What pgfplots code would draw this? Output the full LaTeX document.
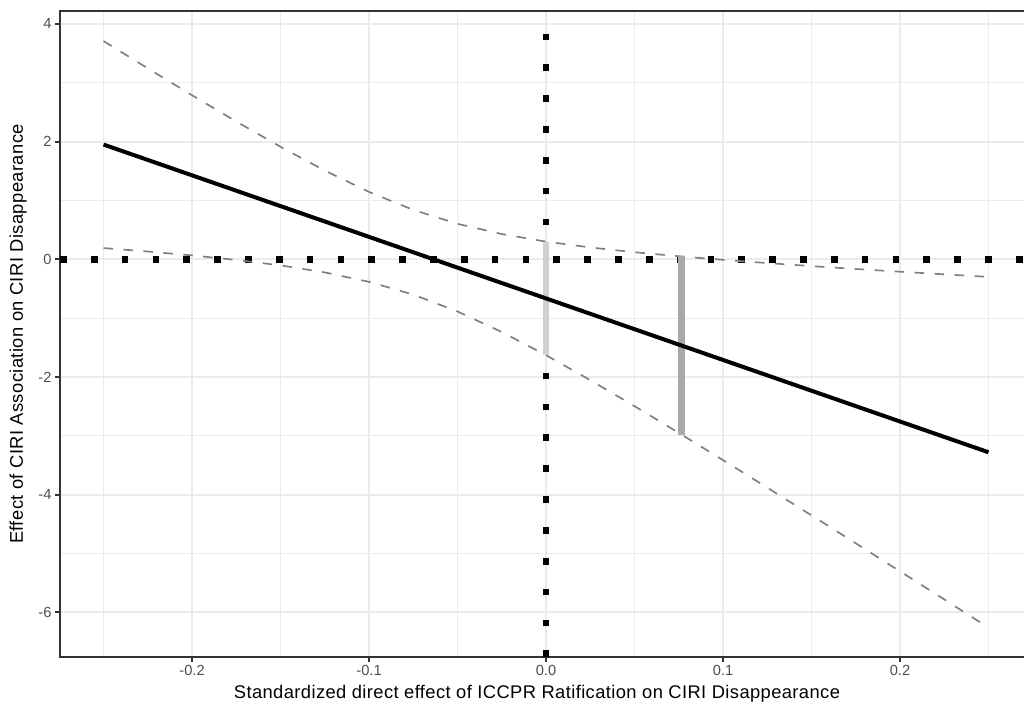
\documentclass[border=0pt]{standalone}
\usepackage{pgfplots}
\pgfplotsset{compat=1.18}
\usepackage{fontspec}
\setmainfont{Liberation Sans}
\newfontfamily\labelfont[LetterSpace=2.2]{Liberation Sans}
\definecolor{gridc}{HTML}{EBEBEB}
\definecolor{framec}{HTML}{333333}
\definecolor{ticklab}{HTML}{4D4D4D}
\definecolor{cic}{HTML}{7F7F7F}
\definecolor{barlight}{HTML}{D0D0D0}
\definecolor{bardark}{HTML}{A8A8A8}
\begin{document}
\begin{tikzpicture}
\path[use as bounding box, clip] (0,0) rectangle (614.4pt,422.4pt);
\begin{axis}[
 at={(36pt,28.2pt)}, anchor=south west, scale only axis,
 width=583.2pt, height=387.6pt,
 xmin=-0.2746, xmax=0.2746, ymin=-6.76, ymax=4.22,
 xtick={-0.2,-0.1,0,0.1,0.2}, xticklabels={-0.2,-0.1,0.0,0.1,0.2},
 ytick={-6,-4,-2,0,2,4}, yticklabels={-6,-4,-2,0,2,4},
 minor xtick={-0.25,-0.15,-0.05,0.05,0.15,0.25},
 minor ytick={-5,-3,-1,1,3},
 grid=both,
 major grid style={gridc, line width=1.07pt},
 minor grid style={gridc, line width=0.53pt},
 tick align=outside, major tick length=2.75pt, minor tick length=0pt,
 tick style={framec, line width=1.07pt},
 xtick pos=bottom, ytick pos=left,
 axis line style={framec, line width=1.07pt},
 ticklabel style={font=\fontsize{8.8}{10}\selectfont, text=ticklab, inner sep=0pt},
 xticklabel style={anchor=north},
 yticklabel style={anchor=east},
 xticklabel shift=2.2pt, yticklabel shift=2.2pt,
 xlabel={Standardized direct effect of ICCPR Ratification on CIRI Disappearance},
 ylabel={Effect of CIRI Association on CIRI Disappearance},
 label style={font=\labelfont\fontsize{11}{13}\selectfont, text=black, inner sep=0pt},
 xlabel style={at={(axis description cs:0.4907,-0.0650)}, anchor=base},
 ylabel style={at={(axis description cs:-0.0381,0.5)}, anchor=base},
]
% reference lines
\addplot[black, line width=4pt, dash pattern=on 4pt off 14.5pt] coordinates {(-0.2746,0) (0.2746,0)};
\addplot[black, line width=4pt, dash pattern=on 4pt off 14.5pt] coordinates {(0,-6.76) (0,4.22)};
% upper CI
\addplot[cic, line width=1pt, dash pattern=on 5.7pt off 6.3pt] coordinates {
(-0.25,3.709) (-0.225,3.245) (-0.2,2.788) (-0.175,2.342) (-0.15,1.912) (-0.125,1.508)
(-0.1,1.145) (-0.075,0.839) (-0.05,0.603) (-0.025,0.429) (0,0.300) (0.025,0.201)
(0.05,0.120) (0.075,0.052) (0.1,-0.009) (0.125,-0.064) (0.15,-0.116) (0.175,-0.165)
(0.2,-0.211) (0.225,-0.256) (0.25,-0.300)};
% lower CI
\addplot[cic, line width=1pt, dash pattern=on 5.7pt off 6.3pt] coordinates {
(-0.25,0.191) (-0.225,0.132) (-0.2,0.066) (-0.175,-0.011) (-0.15,-0.104) (-0.125,-0.223)
(-0.1,-0.383) (-0.075,-0.600) (-0.05,-0.887) (-0.025,-1.236) (0,-1.630) (0.025,-2.054)
(0.05,-2.496) (0.075,-2.951) (0.1,-3.413) (0.125,-3.881) (0.15,-4.352) (0.175,-4.827)
(0.2,-5.303) (0.225,-5.781) (0.25,-6.260)};
% bars
\addplot[barlight, line width=3.4pt] coordinates {(0,-1.63) (0,0.30)};
\addplot[bardark, line width=4.2pt] coordinates {(0.0767,-2.98) (0.0767,0.05)};
% main effect line
\addplot[black, line width=2.4pt] coordinates {(-0.25,1.95) (0.25,-3.28)};
\end{axis}
\end{tikzpicture}
\end{document}
